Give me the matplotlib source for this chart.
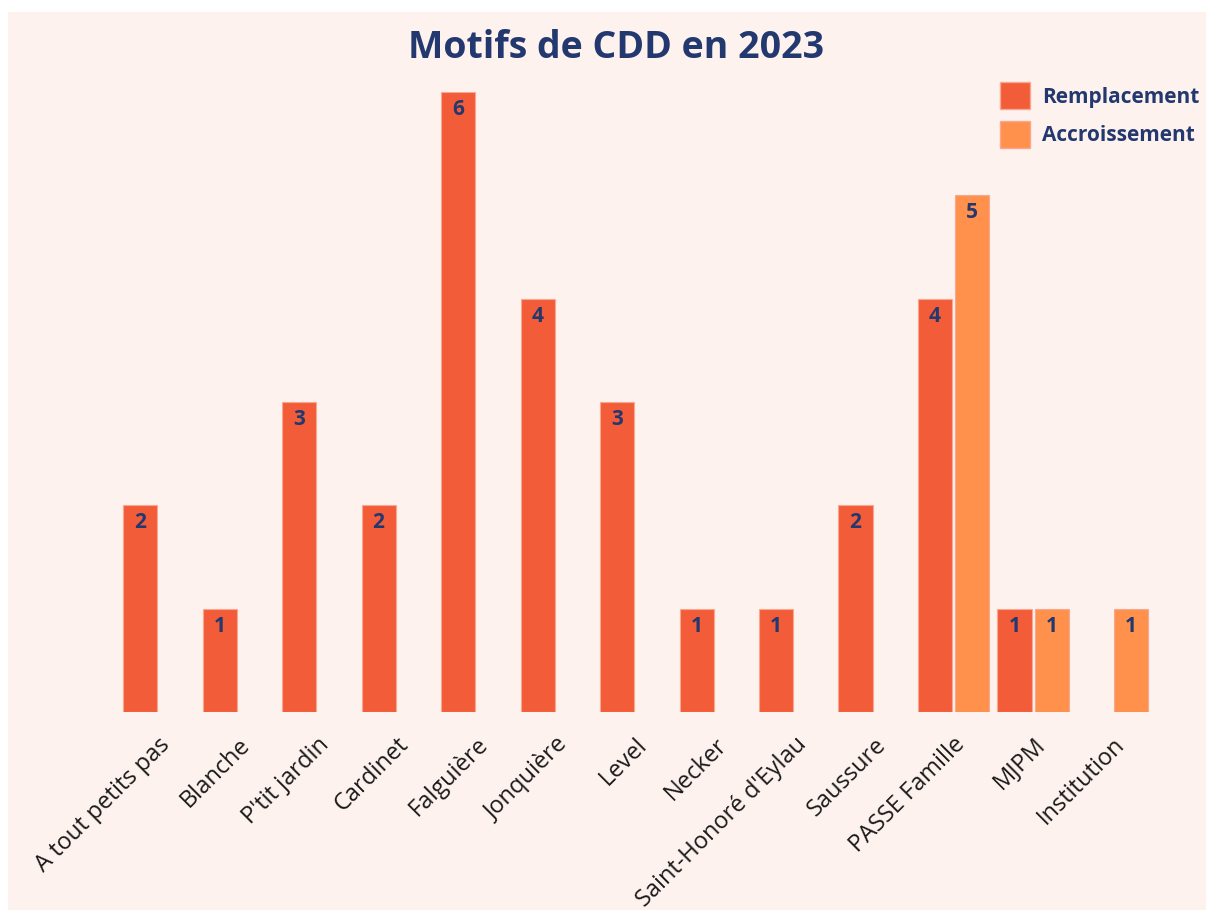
import matplotlib
matplotlib.use("Agg")
import matplotlib.pyplot as plt
import numpy as np
from matplotlib.patches import Rectangle, Patch

categories = ["A tout petits pas", "Blanche", "P'tit jardin", "Cardinet", "Falguière",
              "Jonquière", "Level", "Necker", "Saint-Honoré d'Eylau", "Saussure",
              "PASSE Famille", "MJPM", "Institution"]
remplacement = [2, 1, 3, 2, 6, 4, 3, 1, 1, 2, 4, 1, None]
accroissement = [None, None, None, None, None, None, None, None, None, None, 5, 1, 1]
series_names = ["Remplacement", "Accroissement"]

col_r = "#F25C38"
col_a = "#FF914D"
navy = "#22386F"
bg = "#FEF2EE"

W, H = 1206, 910
fig = plt.figure(figsize=(W / 100, H / 100), dpi=100)
fig.patch.set_facecolor("white")
fig.patches.append(Rectangle((8 / W, 0), 1 - 8 / W, 1 - 12 / H, transform=fig.transFigure,
                             facecolor=bg, edgecolor="none", zorder=-10))

ax_left, ax_right = 80, 1180
ax_bottom, ax_top = 712, 92
ax = fig.add_axes([ax_left / W, 1 - ax_bottom / H, (ax_right - ax_left) / W, (ax_bottom - ax_top) / H])
ax.set_facecolor("none")
ax.set_xlim((ax_left - 158.5) / 79.5, (ax_right - 158.5) / 79.5)
ax.set_ylim(0, 6)

x = np.arange(len(categories))
bw = 34 / 79.5
off = 18.5 / 79.5
for vals, dx, col in [(remplacement, -off, col_r), (accroissement, off, col_a)]:
    for i, v in enumerate(vals):
        if v is None:
            continue
        ax.bar(x[i] + dx, v, width=bw, color=col, edgecolor="#F8A890", linewidth=0.8, zorder=2)
        ax.text(x[i] + dx, v - 0.17, str(v), ha="center", va="center", color=navy,
                fontsize=15, fontweight="bold", family="Open Sans", zorder=3)

ax.set_xticks(x)
ax.set_xticklabels(categories, rotation=45, ha="right", rotation_mode="anchor",
                   fontsize=17, family="Open Sans", color="#1a1a1a")
ax.tick_params(axis="x", length=0, pad=15)
ax.set_yticks([])
for s in ax.spines.values():
    s.set_visible(False)

fig.text(616 / W, 1 - 48 / H, "Motifs de CDD en 2023", ha="center", va="center",
         fontsize=27, fontweight="bold", color=navy, family="Open Sans")

handles = [Patch(facecolor=col_r, edgecolor="#F8A890"), Patch(facecolor=col_a, edgecolor="#F8A890")]
leg = fig.legend(handles, series_names, loc="upper right", bbox_to_anchor=(1199 / W, 1 - 82 / H),
                 frameon=False, borderpad=0, borderaxespad=0,
                 handlelength=1.44, handleheight=1.65, handletextpad=0.58,
                 labelspacing=0.55, prop={"family": "Open Sans", "weight": "bold", "size": 15})
for t in leg.get_texts():
    t.set_color(navy)

fig.savefig("out.png", dpi=100, facecolor="white")
